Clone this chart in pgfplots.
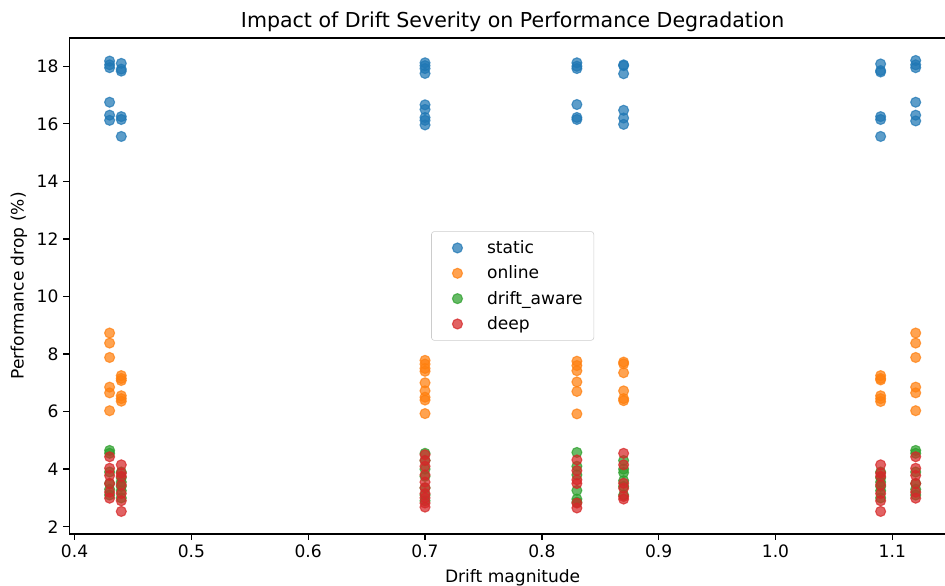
\documentclass[border=0pt]{standalone}
\usepackage{pgfplots}
\pgfplotsset{compat=1.18}
\usepackage{fontspec}
\setmainfont{DejaVu Sans}

\definecolor{cstatic}{HTML}{1F77B4}
\definecolor{conline}{HTML}{FF7F0E}
\definecolor{cdrift}{HTML}{2CA02C}
\definecolor{cdeep}{HTML}{D62728}

\begin{document}
\begin{tikzpicture}
\begin{axis}[
    scale only axis,
    width=638.4pt, height=357pt,
    xmin=0.3955, xmax=1.1545,
    ymin=1.75, ymax=18.98,
    xtick={0.4,0.5,0.6,0.7,0.8,0.9,1.0,1.1},
    ytick={2,4,6,8,10,12,14,16,18},
    xticklabel style={/pgf/number format/.cd, fixed, fixed zerofill, precision=1},
    /pgf/number format/assume math mode=true,
    tick align=outside, tick pos=left,
    major tick length=4.3pt,
    major tick style={black, line width=1pt},
    axis line style={line width=1pt},
    ticklabel style={font=\fontsize{12.3}{14}\selectfont},
    title={Impact of Drift Severity on Performance Degradation},
    title style={font=\fontsize{14.8}{17}\selectfont, anchor=base, yshift=1.4pt},
    xlabel={Drift magnitude},
    ylabel={Performance drop (\%)},
    label style={font=\fontsize{12.3}{14}\selectfont},
    xlabel style={yshift=-2pt},
    legend style={at={(0.5,0.5)}, anchor=center, draw=black!20, rounded corners=2pt,
        font=\fontsize{12.3}{14}\selectfont, row sep=3.4pt, inner xsep=6pt, inner ysep=4.4pt},
    legend cell align=left,
    legend image code/.code={\path (0pt,0pt) (31.2pt,0pt); \draw[#1] plot coordinates {(12.3pt,0pt)};},
    pt/.style={only marks, mark=*, mark size=3.6pt, line width=0.8pt, opacity=0.72},
]
% static
\addplot[pt, color=cstatic] coordinates {
(0.43,18.18) (0.43,18.05) (0.43,17.95) (0.43,16.75) (0.43,16.30) (0.43,16.12)
(0.44,18.10) (0.44,17.90) (0.44,17.83) (0.44,16.25) (0.44,16.15) (0.44,15.56)
(0.70,18.12) (0.70,18.02) (0.70,17.92) (0.70,17.75) (0.70,16.66) (0.70,16.50) (0.70,16.22) (0.70,16.12) (0.70,15.96)
(0.83,18.12) (0.83,18.00) (0.83,17.92) (0.83,16.67) (0.83,16.22) (0.83,16.15)
(0.87,18.05) (0.87,18.02) (0.87,17.74) (0.87,16.47) (0.87,16.20) (0.87,15.98)
(1.09,18.08) (1.09,17.85) (1.09,17.80) (1.09,16.25) (1.09,16.15) (1.09,15.56)
(1.12,18.20) (1.12,18.05) (1.12,17.95) (1.12,16.75) (1.12,16.30) (1.12,16.10)
};
\addlegendentry{static}
% online
\addplot[pt, color=conline] coordinates {
(0.43,8.73) (0.43,8.38) (0.43,7.88) (0.43,6.85) (0.43,6.65) (0.43,6.03)
(0.44,7.25) (0.44,7.15) (0.44,7.08) (0.44,6.55) (0.44,6.45) (0.44,6.36)
(0.70,7.78) (0.70,7.65) (0.70,7.50) (0.70,7.40) (0.70,7.00) (0.70,6.72) (0.70,6.50) (0.70,6.40) (0.70,5.93)
(0.83,7.75) (0.83,7.60) (0.83,7.42) (0.83,7.03) (0.83,6.70) (0.83,5.92)
(0.87,7.72) (0.87,7.66) (0.87,7.35) (0.87,6.72) (0.87,6.45) (0.87,6.38)
(1.09,7.25) (1.09,7.15) (1.09,7.10) (1.09,6.55) (1.09,6.45) (1.09,6.35)
(1.12,8.73) (1.12,8.38) (1.12,7.88) (1.12,6.85) (1.12,6.65) (1.12,6.03)
};
\addlegendentry{online}
% drift_aware
\addplot[pt, color=cdrift] coordinates {
(0.43,4.65) (0.43,4.55) (0.43,3.90) (0.43,3.50) (0.43,3.30) (0.43,3.10)
(0.44,3.90) (0.44,3.70) (0.44,3.55) (0.44,3.40) (0.44,3.25) (0.44,3.00)
(0.70,4.55) (0.70,4.30) (0.70,4.00) (0.70,3.75) (0.70,3.35) (0.70,3.10) (0.70,2.90)
(0.83,4.58) (0.83,4.10) (0.83,3.80) (0.83,3.26) (0.83,2.96) (0.83,2.85)
(0.87,4.30) (0.87,4.00) (0.87,3.88) (0.87,3.60) (0.87,3.40) (0.87,3.10)
(1.09,3.90) (1.09,3.70) (1.09,3.55) (1.09,3.40) (1.09,3.25) (1.09,3.00)
(1.12,4.65) (1.12,4.55) (1.12,3.90) (1.12,3.50) (1.12,3.30) (1.12,3.10)
};
\addlegendentry{drift\_aware}
% deep
\addplot[pt, color=cdeep] coordinates {
(0.43,4.43) (0.43,4.03) (0.43,3.78) (0.43,3.50) (0.43,3.20) (0.43,2.99)
(0.44,4.15) (0.44,3.86) (0.44,3.75) (0.44,3.45) (0.44,3.15) (0.44,2.90) (0.44,2.53)
(0.70,4.50) (0.70,4.30) (0.70,4.10) (0.70,3.80) (0.70,3.55) (0.70,3.35) (0.70,3.15) (0.70,3.00) (0.70,2.82) (0.70,2.68)
(0.83,4.32) (0.83,3.95) (0.83,3.63) (0.83,3.50) (0.83,2.82) (0.83,2.65)
(0.87,4.55) (0.87,4.15) (0.87,3.51) (0.87,3.34) (0.87,3.05) (0.87,2.96)
(1.09,4.15) (1.09,3.86) (1.09,3.75) (1.09,3.45) (1.09,3.15) (1.09,2.90) (1.09,2.53)
(1.12,4.43) (1.12,4.03) (1.12,3.78) (1.12,3.50) (1.12,3.20) (1.12,2.99)
};
\addlegendentry{deep}
\end{axis}
\pgfresetboundingbox
\path[use as bounding box] (-49.9pt,-37.4pt) rectangle (630.5pt,384.4pt);
\end{tikzpicture}
\end{document}
